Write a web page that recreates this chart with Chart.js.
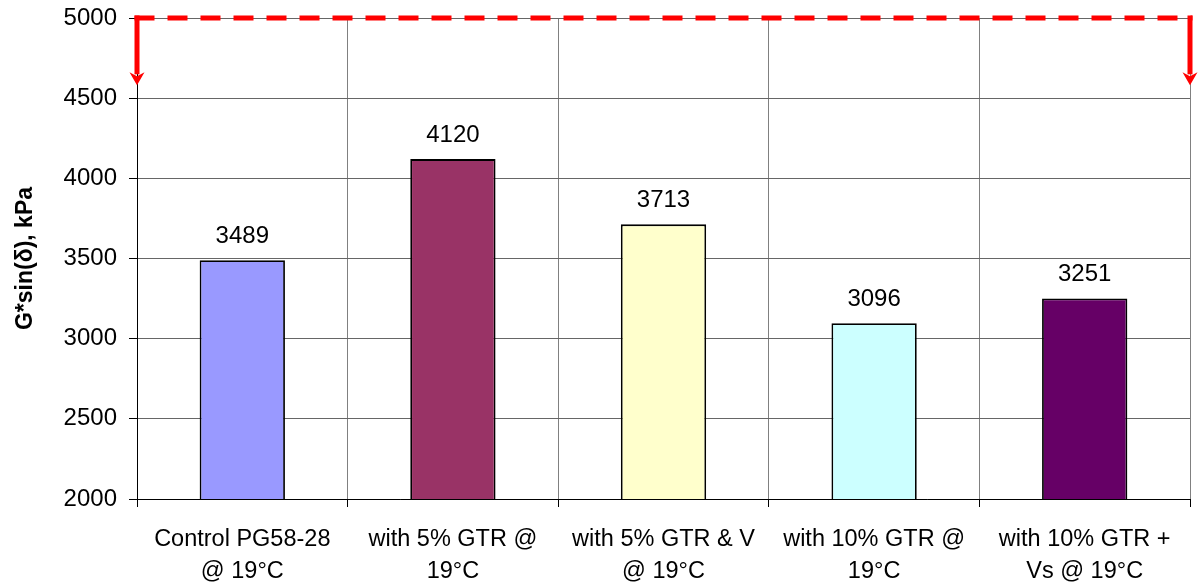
<!DOCTYPE html>
<html>
<head>
<meta charset="utf-8">
<script src="https://cdn.jsdelivr.net/npm/chart.js@4/dist/chart.umd.min.js"></script>
<style>
  html, body { margin: 0; padding: 0; background: #fff; }
  #wrap { width: 1198px; height: 586px; position: relative; }
</style>
</head>
<body>
<div id="wrap"><canvas id="chart"></canvas></div>
<script>
// Binder samples and their measured G*sin(δ) values (kPa)
const categories = [
  ["Control PG58-28", "@ 19°C"],
  ["with 5% GTR @", "19°C"],
  ["with 5% GTR & V", "@ 19°C"],
  ["with 10% GTR @", "19°C"],
  ["with 10% GTR +", "Vs @ 19°C"]
];
const values = [3489, 4120, 3713, 3096, 3251];
const barColors = ["#9999FF", "#993366", "#FFFFCC", "#CCFFFF", "#660066"];

// Value axis range
const yMin = 2000;
const yMax = 5000;
const yStep = 500;

// Specification limit line and the level its arrows point down to
const limitValue = 5000;
const arrowTipValue = 4580;

const FONT = "'Liberation Sans', Arial, Helvetica, sans-serif";

// Writes each bar's value above it
const valueLabels = {
  id: "valueLabels",
  afterDatasetsDraw(chart) {
    const ctx = chart.ctx;
    const meta = chart.getDatasetMeta(0);
    ctx.save();
    ctx.font = "24px " + FONT;
    ctx.fillStyle = "#000";
    ctx.textAlign = "center";
    ctx.textBaseline = "alphabetic";
    meta.data.forEach((bar, i) => {
      ctx.fillText(String(values[i]), bar.x, bar.y - 17.5);
    });
    ctx.restore();
  }
};

// Red dashed limit line with downward arrows at both plot edges
const limitLine = {
  id: "limitLine",
  afterDatasetsDraw(chart) {
    const { ctx, chartArea, scales } = chart;
    const y0 = scales.y.getPixelForValue(limitValue);
    const yTip = scales.y.getPixelForValue(arrowTipValue);
    const left = chartArea.left, right = chartArea.right;
    const headH = 13, headW = 7.5;
    ctx.save();
    ctx.strokeStyle = "#FF0000";
    ctx.fillStyle = "#FF0000";
    ctx.lineWidth = 5;
    ctx.lineCap = "butt";
    // horizontal dashed segment
    ctx.setLineDash([20, 13]);
    ctx.beginPath();
    ctx.moveTo(left - 2.5, y0);
    ctx.lineTo(right + 2.5, y0);
    ctx.stroke();
    ctx.setLineDash([]);
    // vertical arrow shafts and heads
    [left, right].forEach(x => {
      ctx.beginPath();
      ctx.moveTo(x, y0 - 2.5);
      ctx.lineTo(x, yTip - headH + 2);
      ctx.stroke();
      ctx.beginPath();
      ctx.moveTo(x - headW, yTip - headH);
      ctx.lineTo(x, yTip - headH + 4);
      ctx.lineTo(x + headW, yTip - headH);
      ctx.lineTo(x, yTip);
      ctx.closePath();
      ctx.fill();
    });
    ctx.restore();
  }
};

new Chart(document.getElementById("chart"), {
  type: "bar",
  data: {
    labels: categories,
    datasets: [{
      data: values,
      backgroundColor: barColors,
      borderColor: "#000",
      borderWidth: 1.8,
      barPercentage: 0.405,
      categoryPercentage: 1
    }]
  },
  options: {
    responsive: true,
    maintainAspectRatio: false,
    animation: false,
    layout: { padding: { top: 18, right: 8, left: 0, bottom: 0 } },
    plugins: {
      legend: { display: false },
      tooltip: { enabled: false }
    },
    scales: {
      x: {
        grid: {
          offset: true,
          color: "#808080",
          tickColor: "#000",
          tickLength: 8,
          lineWidth: 1
        },
        border: { color: "#000", width: 1 },
        ticks: {
          color: "#000",
          font: { family: FONT, size: 23.5, lineHeight: 1.36 },
          padding: 17,
          maxRotation: 0,
          autoSkip: false
        },
        afterFit(scale) {
          scale.height = 87;
          scale.paddingLeft = 0;
          scale.paddingRight = 0;
        }
      },
      y: {
        min: yMin,
        max: yMax,
        grid: {
          color: "#666",
          tickColor: "#000",
          tickLength: 8,
          lineWidth: 1
        },
        border: { color: "#000", width: 1 },
        ticks: {
          stepSize: yStep,
          color: "#000",
          font: { family: FONT, size: 24 },
          padding: 12,
          callback: v => String(v)
        },
        title: {
          display: true,
          text: "G*sin(δ), kPa",
          color: "#000",
          font: { family: FONT, size: 23, weight: "bold" },
          padding: { top: 12, bottom: 0 }
        },
        afterFit(scale) {
          scale.width = 137;
          scale.paddingTop = 0;
          scale.paddingBottom = 0;
        }
      }
    }
  },
  plugins: [valueLabels, limitLine]
});
</script>
</body>
</html>
